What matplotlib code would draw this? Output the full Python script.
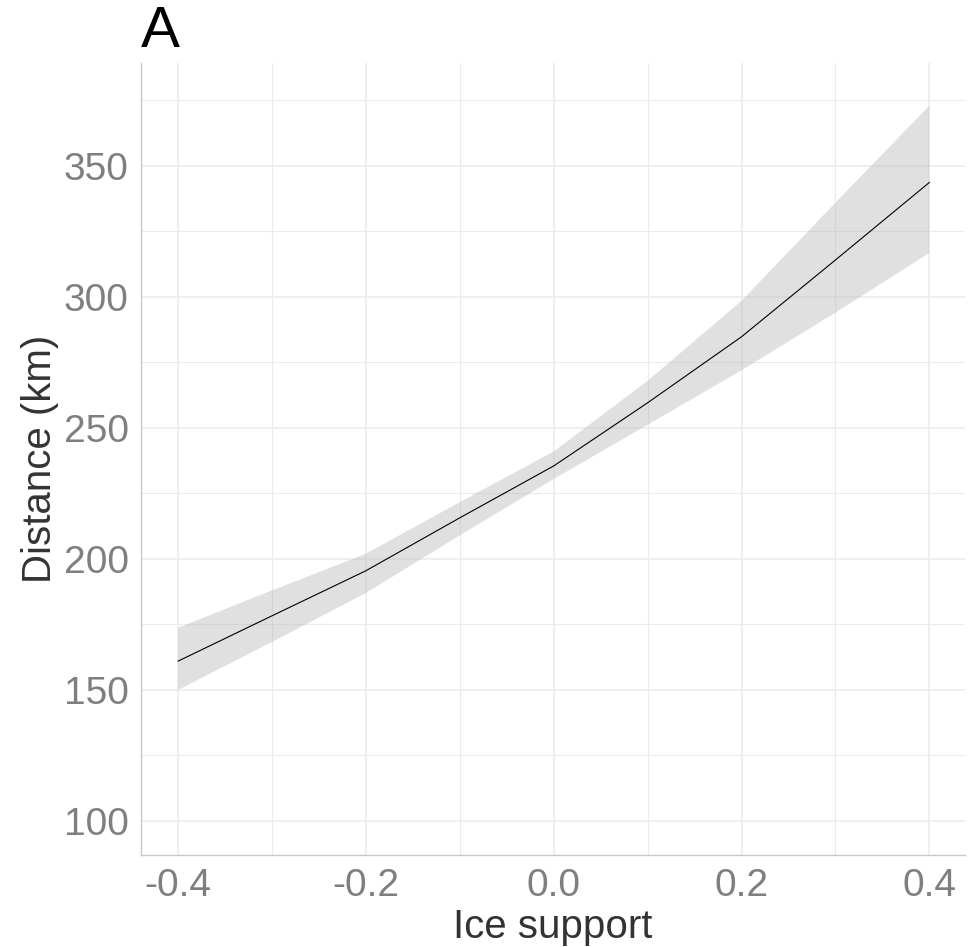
import matplotlib
matplotlib.use("Agg")
import matplotlib.pyplot as plt
from matplotlib.ticker import MultipleLocator

plt.rcParams['font.family'] = ['Liberation Sans', 'DejaVu Sans']

ice_support = [-0.4, -0.3, -0.2, -0.1, 0.0, 0.1, 0.2, 0.3, 0.4]
distance_fit = [161.0, 178.3, 195.5, 215.7, 235.5, 259.6, 284.8, 314.1, 343.7]
distance_lower = [150.0, 168.3, 187.0, 209.0, 230.5, 251.2, 272.0, 294.0, 316.8]
distance_upper = [173.7, 188.0, 202.0, 221.7, 241.0, 268.0, 298.5, 336.0, 373.0]

x_ticks = [-0.4, -0.2, 0.0, 0.2, 0.4]
x_tick_labels = ["-0.4", "-0.2", "0.0", "0.2", "0.4"]
y_ticks = [100, 150, 200, 250, 300, 350]

fig = plt.figure(figsize=(9.68, 9.47), dpi=100)
ax = fig.add_axes([141/968, 1-855/947, (965-141)/968, (855-63)/947])

ax.set_xlim(-0.4395, 0.438)
ax.set_ylim(87.0, 389.3)

ax.xaxis.set_minor_locator(MultipleLocator(0.1))
ax.yaxis.set_minor_locator(MultipleLocator(25))
ax.set_xticks(x_ticks)
ax.set_xticklabels(x_tick_labels)
ax.set_yticks(y_ticks)

ax.grid(which='major', color='#ebebeb', linewidth=1.1, zorder=0)
ax.grid(which='minor', color='#ebebeb', linewidth=0.8, zorder=0)
ax.set_axisbelow(True)

ax.fill_between(ice_support, distance_lower, distance_upper, facecolor='#b3b3b3', alpha=0.4, linewidth=0, zorder=2)
ax.plot(ice_support, distance_fit, color='black', linewidth=0.8, zorder=3)

for s in ['top', 'right']:
    ax.spines[s].set_visible(False)
for s in ['left', 'bottom']:
    ax.spines[s].set_color('#c8c8c8')
    ax.spines[s].set_linewidth(1.0)

ax.tick_params(which='both', length=0)
ax.tick_params(axis='both', labelsize=28, labelcolor='#7f7f7f', pad=9)

ax.set_xlabel('Ice support', fontsize=29, color='#333333', labelpad=3)
ax.set_ylabel('Distance (km)', fontsize=29, color='#333333', labelpad=3)

fig.text(141/968, 1-47/947, 'A', fontsize=42, color='black', ha='left', va='baseline')

fig.savefig('out.png', dpi=100)
